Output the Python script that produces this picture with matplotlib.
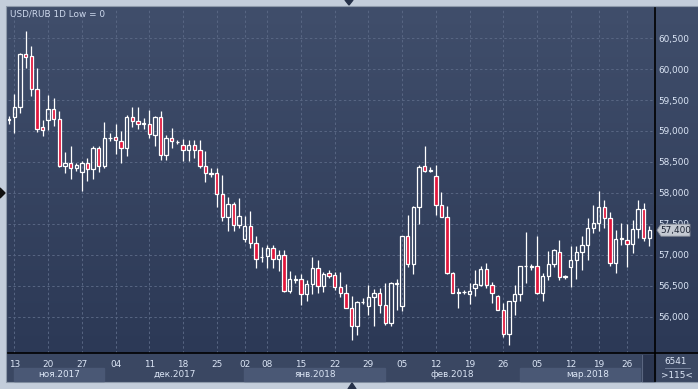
"""
USD/RUB daily candles, Nov 2017 - Mar 2018, dark trading-terminal look.
"""
import numpy as np
import matplotlib
matplotlib.use("Agg")
from matplotlib import pyplot as plt
from matplotlib.patches import Rectangle, Polygon
from matplotlib.colors import to_rgb
import matplotlib.transforms as mtrans


# Daily bars (115 bars in view)
opens = [59.20, 59.23, 59.38, 60.24, 60.21, 59.67, 59.06, 59.18, 59.35, 59.19,
         58.44, 58.48, 58.40, 58.34, 58.48, 58.38, 58.73, 58.44, 58.88, 58.90,
         58.84, 58.72, 59.22, 59.16, 59.12, 59.12, 58.93, 59.22, 58.61, 58.88,
         58.82, 58.77, 58.69, 58.77, 58.69, 58.44, 58.33, 58.33, 57.98, 57.62,
         57.83, 57.48, 57.25, 57.47, 57.20, 56.96, 56.99, 57.11, 56.93, 57.00,
         56.42, 56.60, 56.61, 56.37, 56.54, 56.79, 56.50, 56.71, 56.68, 56.48,
         56.38, 56.15, 55.86, 56.24, 56.18, 56.33, 56.38, 56.20, 55.91, 56.54,
         56.18, 57.31, 56.85, 57.78, 58.44, 58.36, 58.27, 57.80, 57.62, 56.71,
         56.39, 56.40, 56.37, 56.47, 56.52, 56.77, 56.51, 56.34, 56.11, 55.73,
         56.25, 56.37, 56.82, 56.81, 56.82, 56.39, 56.66, 56.85, 57.05, 56.65,
         56.80, 56.92, 57.05, 57.16, 57.43, 57.52, 57.77, 57.59, 56.87, 57.25,
         57.24, 57.18, 57.42, 57.74, 57.28]
highs = [59.24, 59.60, 60.26, 60.61, 60.37, 60.01, 59.18, 59.58, 59.53, 59.33,
         58.66, 58.75, 58.48, 58.52, 58.57, 58.75, 58.75, 59.15, 58.96, 59.11,
         59.00, 59.26, 59.38, 59.38, 59.21, 59.34, 59.24, 59.32, 58.94, 59.05,
         58.85, 58.87, 58.85, 58.85, 58.85, 58.68, 58.41, 58.41, 58.29, 57.93,
         57.85, 57.92, 57.63, 57.71, 57.30, 57.13, 57.16, 57.16, 57.08, 57.08,
         56.74, 56.68, 56.70, 56.60, 56.96, 56.92, 56.73, 56.75, 56.72, 56.72,
         56.53, 56.34, 56.25, 56.30, 56.52, 56.45, 56.46, 56.55, 56.57, 56.62,
         57.31, 57.65, 57.79, 58.45, 58.76, 58.42, 58.45, 58.02, 57.79, 56.73,
         56.47, 56.44, 56.55, 56.76, 56.82, 56.87, 56.57, 56.35, 56.22, 56.25,
         56.51, 56.82, 57.37, 56.85, 57.31, 56.71, 57.07, 57.09, 57.24, 56.68,
         57.14, 57.14, 57.31, 57.59, 57.81, 58.03, 57.89, 57.70, 57.40, 57.51,
         57.50, 57.56, 57.89, 57.84, 57.47]
lows = [59.12, 58.97, 59.29, 60.01, 59.56, 58.99, 58.92, 59.02, 59.08, 58.42,
        58.32, 58.23, 58.36, 58.04, 58.19, 58.22, 58.34, 58.41, 58.84, 58.63,
        58.49, 58.59, 59.07, 59.03, 59.03, 58.88, 58.76, 58.53, 58.54, 58.72,
        58.79, 58.52, 58.52, 58.56, 58.41, 58.18, 58.26, 57.78, 57.55, 57.38,
        57.38, 57.44, 57.21, 57.11, 56.79, 56.89, 56.79, 56.79, 56.74, 56.40,
        56.39, 56.55, 56.19, 56.25, 56.37, 56.38, 56.41, 56.63, 56.44, 56.33,
        56.14, 55.63, 55.71, 56.21, 56.03, 55.86, 56.06, 55.87, 55.86, 56.11,
        56.10, 56.81, 56.70, 57.50, 58.34, 58.34, 57.65, 57.61, 56.69, 56.38,
        56.15, 56.37, 56.21, 56.34, 56.50, 56.46, 56.22, 56.11, 55.68, 55.55,
        56.03, 56.25, 56.55, 56.76, 56.37, 56.25, 56.59, 56.81, 56.60, 56.62,
        56.48, 56.62, 56.76, 56.92, 57.35, 57.39, 57.43, 56.82, 56.71, 57.16,
        56.81, 57.03, 57.28, 57.23, 57.15]
closes = [59.17, 59.38, 60.24, 60.20, 59.67, 59.04, 59.01, 59.35, 59.19, 58.44,
          58.48, 58.40, 58.45, 58.48, 58.38, 58.73, 58.44, 58.88, 58.885, 58.85,
          58.73, 59.22, 59.16, 59.12, 59.125, 58.95, 59.22, 58.61, 58.88, 58.84,
          58.825, 58.69, 58.77, 58.69, 58.44, 58.33, 58.30, 57.98, 57.62, 57.82,
          57.48, 57.63, 57.47, 57.20, 56.93, 56.965, 57.11, 56.94, 57.00, 56.42,
          56.62, 56.605, 56.37, 56.54, 56.79, 56.50, 56.70, 56.66, 56.48, 56.38,
          56.15, 55.86, 56.24, 56.245, 56.32, 56.38, 56.20, 55.91, 56.55, 56.545,
          57.31, 56.85, 57.78, 58.42, 58.35, 58.365, 57.80, 57.62, 56.71, 56.38,
          56.395, 56.405, 56.42, 56.53, 56.77, 56.51, 56.38, 56.12, 55.73, 56.25,
          56.37, 56.82, 56.825, 56.815, 56.39, 56.66, 56.85, 57.08, 56.64, 56.655,
          56.92, 57.05, 57.16, 57.43, 57.51, 57.77, 57.59, 56.87, 57.25, 57.28,
          57.18, 57.42, 57.74, 57.28, 57.40]

# Date axis: bar index of each day label, and month spans (in bar units)
tick_pos = [1, 7, 13, 19, 25, 31, 37, 42, 46, 52, 58, 64, 70, 76, 82, 88,
            94, 100, 105, 110]
tick_lab = ['13', '20', '27', '04', '11', '18', '25', '02', '08', '15', '22',
            '29', '05', '12', '19', '26', '05', '12', '19', '26']
months = ['ноя.2017', 'дек.2017', 'янв.2018', 'фев.2018', 'мар.2018']
month_edges = [0.93, 17, 41.9, 67, 91, 115]
price_ticks = [56.0, 56.5, 57.0, 57.5, 58.0, 58.5, 59.0, 59.5, 60.0, 60.5]
last_price = 57.40

W, H = 698, 389
RED = '#e2163c'
TXT = '#dce6f6'
STRIP = '#3a4762'

fig = plt.figure(figsize=(W / 100, H / 100), dpi=100, facecolor='#c3cddb')


def box(l, t, r, b):
    # pixel box (from top-left) -> figure fraction rect
    return [l / W, 1 - b / H, (r - l) / W, (b - t) / H]


# background panel, drawn in pixel coordinates
bg = fig.add_axes([0, 0, 1, 1], zorder=0)
bg.set_xlim(0, W)
bg.set_ylim(H, 0)
bg.axis('off')
top_c, bot_c = np.array(to_rgb('#404e6b')), np.array(to_rgb('#2c3956'))
t = np.linspace(0, 1, 256)[:, None, None]
grad = top_c * (1 - t) + bot_c * t
bg.imshow(grad, extent=[7, W, 353, 7], aspect='auto', interpolation='bilinear')
bg.add_patch(Rectangle((7, 353), W - 7, 28, color=STRIP))
bg.add_patch(Rectangle((6, 6), W, 376, fill=False, ec='#8e9aab', lw=0.8))

# main candle axes
ax = fig.add_axes(box(8, 8, 655, 353), zorder=1)
ax.set_facecolor('none')
o, hi, lo, c = map(np.asarray, (opens, highs, lows, closes))
idx = np.arange(len(o))
up = c >= o
body_lo = np.minimum(o, c)
body_hi = np.maximum(o, c)

ax.vlines(idx, body_hi, hi, color='white', lw=0.9, zorder=3)
ax.vlines(idx, lo, body_lo, color='white', lw=0.9, zorder=3)
ax.bar(idx, np.maximum(body_hi - body_lo, 0.004), bottom=body_lo, width=0.6,
       color=[('none' if u else RED) for u in up], edgecolor='white',
       linewidth=0.9, zorder=4)

ax.set_xlim(-0.14, 115.0)
ax.set_ylim(55.419, 60.984)

for s in ['top', 'left']:
    ax.spines[s].set_visible(False)
ax.spines['bottom'].set_color('black')
ax.spines['right'].set_color('black')
ax.spines['bottom'].set_linewidth(1.2)
ax.spines['right'].set_linewidth(1.2)

ax.yaxis.tick_right()
ax.set_yticks(price_ticks, [f'{v:.3f}'.replace('.', ',') for v in price_ticks])
ax.set_xticks(tick_pos, tick_lab)
ax.tick_params(axis='y', length=0, pad=2.5, labelsize=6.4, labelcolor=TXT)
ax.tick_params(axis='x', length=0, pad=5, labelsize=6.4, labelcolor=TXT)
ax.grid(True, color='#586683', lw=0.7, ls=(0, (2.5, 2.5)), zorder=1)

ax.text(0.003, 0.983, 'USD/RUB 1D Low = 0', transform=ax.transAxes,
        ha='left', va='center', fontsize=6.4, color='#cdd8ec')

# month bands and names under the day labels
blend = mtrans.blended_transform_factory(ax.transData, ax.transAxes)
for k, name in enumerate(months):
    a, b = month_edges[k], month_edges[k + 1]
    if k % 2 == 0:
        ax.add_patch(Rectangle((a, -0.0803), min(b, 112.3) - a, 0.0368,
                               transform=blend, color='#4a5875', clip_on=False,
                               zorder=0))
    ax.text((a + b) / 2, -0.0625, name, transform=blend, ha='center',
            va='center', fontsize=6.4, color=TXT, clip_on=False)

# last price marker on the right scale
yb = ax.transData.transform((0, last_price))[1]
xr = ax.transAxes.transform((1, 0))[0]
marker = Polygon([(xr + 2, yb), (xr + 6, yb + 6), (xr + 35, yb + 6),
                  (xr + 35, yb - 6), (xr + 6, yb - 6)], closed=True,
                 transform=mtrans.IdentityTransform(), fc='#c4c9d2',
                 ec='#8b919c', lw=0.6, zorder=20)
fig.add_artist(marker)
fig.text((xr + 20.5) / W, yb / H, f'{last_price:.3f}'.replace('.', ','),
         ha='center', va='center', fontsize=6.4, color='#1c2333', zorder=21)

# top overlay: separators, scroll box, counters, little arrows
ov = fig.add_axes([0, 0, 1, 1], zorder=2)
ov.set_xlim(0, W)
ov.set_ylim(H, 0)
ov.axis('off')
ov.plot([655, 655], [353, 381], color='black', lw=1.2)
ov.plot([655, W], [353, 353], color='black', lw=1.2)
ov.add_patch(Rectangle((642, 355), 13, 26, color='#2b3650'))
ov.plot([642, 642], [355, 381], color='#5a6680', lw=0.8)
ov.text(676, 361, '6541', ha='center', va='center', fontsize=6.4, color=TXT)
ov.plot([665, 690], [368, 368], color='#7b88a2', lw=0.6)
ov.text(677, 375, '>115<', ha='center', va='center', fontsize=6.4, color=TXT)
ov.add_patch(Polygon([(345, 0), (353, 0), (349, 5)], color='#26314a'))
ov.add_patch(Polygon([(348, 389), (356, 389), (352, 383)], color='#26314a'))
ov.add_patch(Polygon([(0, 188), (0, 198), (5, 193)], color='#111111'))

plt.savefig('out.png', dpi=100, facecolor=fig.get_facecolor())
